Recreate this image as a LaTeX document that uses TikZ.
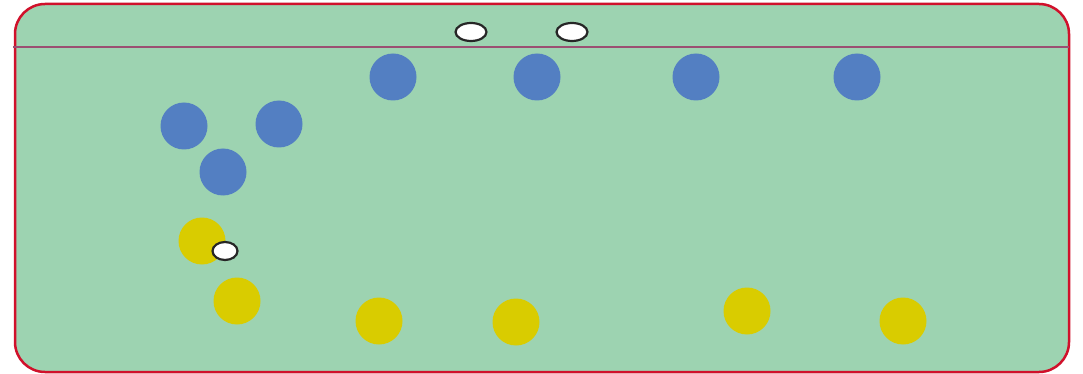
\documentclass[tikz,border=0pt]{standalone}
\usetikzlibrary{positioning}
\definecolor{fieldgreen}{HTML}{9DD3B1}
\definecolor{fieldred}{HTML}{D0112B}
\definecolor{netline}{HTML}{9B4F72}
\definecolor{teamblue}{HTML}{537FC2}
\definecolor{teamyellow}{HTML}{D9CC00}
\tikzset{
  bluep/.style={circle, fill=teamblue, minimum size=47pt, inner sep=0pt},
  yellowp/.style={circle, fill=teamyellow, minimum size=47pt, inner sep=0pt},
  ball/.style={ellipse, draw=black!85, line width=2.2pt, fill=white, minimum width=31pt, minimum height=18pt, inner sep=0pt},
}
\usetikzlibrary{shapes.geometric}
\begin{document}
\begin{tikzpicture}[x=1pt, y=-1pt]
    \useasboundingbox (0,0) rectangle (1083,374);

    % Field
    \draw[fieldred, line width=2.5pt, fill=fieldgreen, rounded corners=30pt]
        (15,4) rectangle (1069,372);
    \draw[netline, line width=2.5pt] (13,47) -- (1069,47);

    % Blue team
    \foreach \name/\x/\y in {b1/393/77, b2/537/77, b3/696/77, b4/857/77,
                            b5/184/126, b6/279/124, b7/223/172}
        \node[bluep] (\name) at (\x,\y) {};

    % Yellow team
    \foreach \name/\x/\y in {y1/202/241, y2/237/301, y3/379/321, y4/516/322,
                            y5/747/311, y6/903/321}
        \node[yellowp] (\name) at (\x,\y) {};

    % Balls
    \node[ball] (ballA) at (471,32) {};
    \node[ball] (ballB) at (572,32) {};
    \node[ball, minimum width=25pt, minimum height=18pt] (ballC) at (225,251) {};
\end{tikzpicture}
\end{document}
